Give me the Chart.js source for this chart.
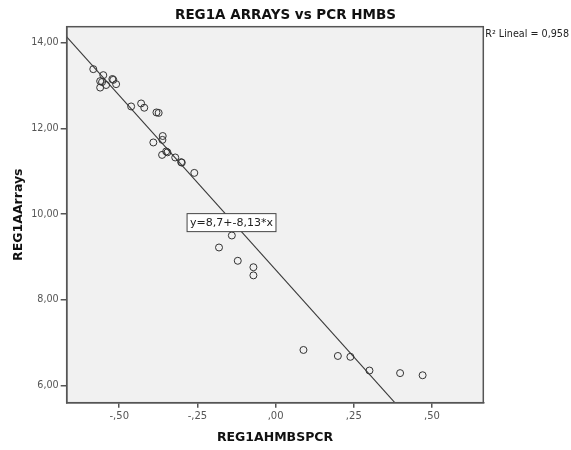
<!DOCTYPE html>
<html><head><meta charset="utf-8">
<script src="https://cdn.jsdelivr.net/npm/chart.js@4/dist/chart.umd.min.js"></script>
<style>html,body{margin:0;padding:0;background:#fff}</style>
</head><body>
<canvas id="c" width="571" height="450"></canvas>
<script>
// ---- data ----
const xValues = [-0.583,-0.551,-0.561,-0.555,-0.542,-0.561,-0.522,-0.519,-0.510,
  -0.462,-0.430,-0.420,-0.381,-0.374,-0.361,-0.362,-0.391,-0.350,-0.346,-0.363,
  -0.321,-0.300,-0.302,-0.260,-0.140,-0.181,-0.121,-0.071,-0.071,
  0.089,0.199,0.239,0.300,0.398,0.470];
const yValues = [13.38,13.24,13.10,13.08,13.01,12.95,13.15,13.13,13.03,
  12.51,12.58,12.48,12.37,12.36,11.82,11.73,11.67,11.46,11.44,11.38,
  11.32,11.20,11.21,10.96,9.50,9.22,8.91,8.76,8.57,
  6.83,6.69,6.67,6.35,6.29,6.24];
const yTickValues = [6, 8, 10, 12, 14];
const xTickValues = [-0.5, -0.25, 0, 0.25, 0.5];
const fitIntercept = 8.7;
const fitSlope = -8.13;
const fitLabel = 'y=8,7+-8,13*x';
const r2Label = 'R\u00B2 Lineal = 0,958';
const chartTitle = 'REG1A ARRAYS vs PCR HMBS';
const xTitle = 'REG1AHMBSPCR';
const yTitle = 'REG1AArrays';

const X_MIN = -0.668, X_MAX = 0.664, Y_MIN = 5.60, Y_MAX = 14.37;
const LABEL_AT = {x: -0.141, y: 9.80};

function fmt(v) {
  let s = Math.abs(v).toFixed(2).replace('.', ',');
  if (Math.abs(v) < 1) s = s.replace(/^0/, '');
  return (v < 0 ? '-' : '') + s;
}

const points = xValues.map((x, i) => ({x, y: yValues[i]}));
const fitLine = [X_MIN, X_MAX].map(x => ({x, y: fitIntercept + fitSlope * x}));

const FONT = "'DejaVu Sans', sans-serif";
const AX = '#555';

const framePlugin = {
  id: 'frame',
  beforeDraw(chart) {
    const {ctx, chartArea: a} = chart;
    ctx.save();
    ctx.fillStyle = '#fff';
    ctx.fillRect(0, 0, chart.width, chart.height);
    ctx.fillStyle = '#f1f1f1';
    ctx.fillRect(a.left, a.top, a.right - a.left, a.bottom - a.top);
    ctx.restore();
  },
  afterDraw(chart) {
    const {ctx, chartArea: a, scales} = chart;
    ctx.save();
    ctx.strokeStyle = AX;
    ctx.lineWidth = 1.5;
    ctx.strokeRect(a.left, a.top, a.right - a.left, a.bottom - a.top);
    // title
    ctx.fillStyle = '#111';
    ctx.font = "bold 13.5px " + FONT;
    ctx.textAlign = 'center';
    ctx.textBaseline = 'middle';
    ctx.fillText(chartTitle, chart.width / 2, 15);
    // R2 label
    ctx.fillStyle = '#222';
    ctx.font = "9.6px " + FONT;
    ctx.textAlign = 'left';
    ctx.fillText(r2Label, a.right + 2, a.top + 8);
    // equation box
    const px = scales.x.getPixelForValue(LABEL_AT.x);
    const py = scales.y.getPixelForValue(LABEL_AT.y);
    ctx.font = "11px " + FONT;
    const w = ctx.measureText(fitLabel).width + 6;
    const h = 18;
    ctx.fillStyle = '#fff';
    ctx.fillRect(px - w / 2, py - h / 2, w, h);
    ctx.strokeStyle = '#444';
    ctx.lineWidth = 1;
    ctx.strokeRect(px - w / 2, py - h / 2, w, h);
    ctx.fillStyle = '#222';
    ctx.textAlign = 'center';
    ctx.fillText(fitLabel, px, py + 0.5);
    ctx.restore();
  }
};

new Chart(document.getElementById('c'), {
  type: 'scatter',
  data: {
    datasets: [
      {type: 'line', data: fitLine, borderColor: '#3a3a3a', borderWidth: 1.1, pointRadius: 0, fill: false, order: 2},
      {data: points, pointStyle: 'circle', pointRadius: 3.5, borderColor: '#333', borderWidth: 1,
       backgroundColor: 'rgba(0,0,0,0)', order: 1}
    ]
  },
  options: {
    responsive: false,
    animation: false,
    layout: {padding: {left: 0, right: 87.7, top: 26.7, bottom: 0}},
    plugins: {
      legend: {display: false},
      tooltip: {enabled: false},
      title: {display: false}
    },
    scales: {
      x: {
        type: 'linear', min: X_MIN, max: X_MAX,
        afterBuildTicks: s => { s.ticks = xTickValues.map(v => ({value: v})); },
        afterFit: s => { s.height = 47.3; },
        ticks: {callback: v => fmt(v), color: '#555', font: {family: FONT, size: 10}, padding: 3, maxRotation: 0},
        grid: {display: true, drawOnChartArea: false, drawTicks: true, tickLength: 5, color: AX, lineWidth: 1.5},
        border: {display: true, color: AX, width: 1.5},
        title: {display: true, text: xTitle, color: '#111', font: {family: FONT, size: 12.5, weight: 'bold', lineHeight: 1}, padding: {top: 0, bottom: 6.2}}
      },
      y: {
        type: 'linear', min: Y_MIN, max: Y_MAX,
        afterBuildTicks: s => { s.ticks = yTickValues.map(v => ({value: v})); },
        afterFit: s => { s.width = 66.7; },
        ticks: {callback: v => fmt(v), color: '#555', font: {family: FONT, size: 9.6}, padding: 2},
        grid: {display: true, drawOnChartArea: false, drawTicks: true, tickLength: 6, color: AX, lineWidth: 1.5},
        border: {display: true, color: AX, width: 1.5},
        title: {display: true, text: yTitle, color: '#111', font: {family: FONT, size: 12.5, weight: 'bold', lineHeight: 1}, padding: {top: 12, bottom: 0}}
      }
    }
  },
  plugins: [framePlugin]
});
</script>
</body></html>
